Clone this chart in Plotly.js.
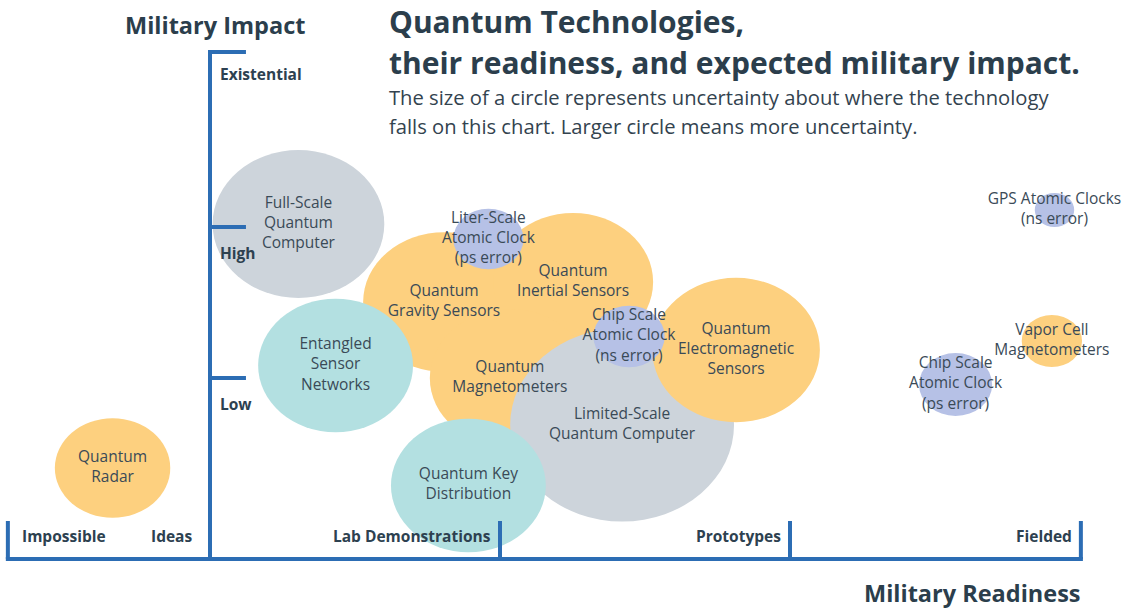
<!DOCTYPE html>
<html>
<head>
<meta charset="utf-8">
<script src="https://cdn.plot.ly/plotly-3.0.1.min.js"></script>
<style>
  html, body { margin: 0; padding: 0; background: #fff; }
  #plot { width: 1122px; height: 611px; }
</style>
</head>
<body>
<div id="plot"></div>
<script>
// Technologies, in drawing order (later ones sit on top)
let techLabels = [
  "Full-Scale<br>Quantum<br>Computer",
  "Quantum<br>Gravity Sensors",
  "Quantum<br>Inertial Sensors",
  "Quantum<br>Magnetometers",
  "Limited-Scale<br>Quantum Computer",
  "Quantum<br>Electromagnetic<br>Sensors",
  "Liter-Scale<br>Atomic Clock<br>(ps error)",
  "Chip Scale<br>Atomic Clock<br>(ns error)",
  "Entangled<br>Sensor<br>Networks",
  "Quantum Key<br>Distribution",
  "Quantum<br>Radar",
  "GPS Atomic Clocks<br>(ns error)",
  "Vapor Cell<br>Magnetometers",
  "Chip Scale<br>Atomic Clock<br>(ps error)"
]
// readiness: 0 = start of lab demonstrations, 1 = prototypes, 2 = fielded
let readiness = [0.305, 0.807, 1.252, 1.034, 1.421, 1.814, 0.960, 1.445, 0.433, 0.891, -0.336, 2.912, 2.903, 2.571]
// impact: 0 = bottom of the scale
let impact = [1.34, 1.028, 1.108, 0.724, 0.536, 0.836, 1.28, 0.89, 0.774, 0.294, 0.364, 1.396, 0.872, 0.698]
// uncertainty = circle radius
let uncertainty = [0.296, 0.279, 0.276, 0.276, 0.386, 0.289, 0.121, 0.123, 0.267, 0.267, 0.199, 0.068, 0.104, 0.126]
let groups = ["computing", "sensing", "sensing", "sensing", "computing", "sensing", "timing", "timing",
  "network", "network", "sensing", "timing", "sensing", "timing"]

// Axis scales
let stageNames = ["Impossible", "Ideas", "Lab Demonstrations", "Prototypes", "Fielded"]
let stageEdges = [-0.697, 0, 1, 2, 3.003]
let impactNames = ["Low", "High", "Existential"]
let impactLevels = [0.724, 1.328, 2.028]

let groupColors = {
  computing: "#cdd4db",
  sensing: "#fdd07f",
  timing: "#b6c1e6",
  network: "#b3e0e1"
}
let axisBlue = "#2c6db4"
let dark = "#2d4150"

let shapes = []

// One circle per technology
for (let i = 0; i < readiness.length; i++) {
  shapes.push({
    type: "circle",
    xref: "x", yref: "y",
    x0: readiness[i] - uncertainty[i],
    x1: readiness[i] + uncertainty[i],
    y0: impact[i] - uncertainty[i],
    y1: impact[i] + uncertainty[i],
    fillcolor: groupColors[groups[i]],
    line: {width: 0},
    layer: "below"
  })
}

// Readiness axis: bottom line and stage ticks
let tickLen = 0.152
let pad = 0.007
shapes.push({type: "line", xref: "x", yref: "y", x0: stageEdges[0] - pad, x1: stageEdges[stageEdges.length - 1] + pad,
  y0: 0, y1: 0, line: {color: axisBlue, width: 4}})
for (let i = 0; i < stageEdges.length; i++) {
  if (stageEdges[i] === 0) continue
  shapes.push({type: "line", xref: "x", yref: "y", x0: stageEdges[i], x1: stageEdges[i],
    y0: 0, y1: tickLen, line: {color: axisBlue, width: 4}})
}

// Impact axis: vertical line and level ticks
let topLevel = impactLevels[impactLevels.length - 1]
shapes.push({type: "line", xref: "x", yref: "y", x0: 0, x1: 0, y0: 0, y1: topLevel + 0.008,
  line: {color: axisBlue, width: 4}})
for (let i = 0; i < impactLevels.length; i++) {
  shapes.push({type: "line", xref: "x", yref: "y", x0: 0, x1: 0.124, y0: impactLevels[i], y1: impactLevels[i],
    line: {color: axisBlue, width: 4}})
}

let annotations = []
let labelFont = {family: "Open Sans", size: 15.5, color: dark}

for (let i = 0; i < impactNames.length; i++) {
  annotations.push({
    xref: "x", yref: "y", x: 0, y: impactLevels[i],
    xanchor: "left", yanchor: "top", xshift: 8, yshift: i === 0 ? -13 : (i === 1 ? -13 : -9),
    text: "<b>" + impactNames[i] + "</b>", showarrow: false, font: labelFont
  })
}

for (let i = 0; i < stageNames.length; i++) {
  let first = i === 0
  annotations.push({
    xref: "x", yref: "y", x: first ? stageEdges[0] : stageEdges[i], y: 0.092,
    xanchor: first ? "left" : "right", yanchor: "middle",
    xshift: first ? 12 : (stageEdges[i] === 0 ? -16 : -7),
    text: "<b>" + stageNames[i] + "</b>", showarrow: false, font: labelFont
  })
}

let titleFont = {family: "Open Sans", size: 30, color: "#2b3e4c"}
let subFont = {family: "Open Sans", size: 20.2, color: "#33434f"}
let axisTitleFont = {family: "Open Sans", size: 23.5, color: "#2b3e4c"}

annotations.push(
  {xref: "paper", yref: "paper", x: 387 / 1122, y: 1 - 22 / 611, xanchor: "left", yanchor: "middle",
    text: "<b>Quantum Technologies,</b>", showarrow: false, font: titleFont},
  {xref: "paper", yref: "paper", x: 387 / 1122, y: 1 - 62 / 611, xanchor: "left", yanchor: "middle",
    text: "<b>their readiness, and expected military impact.</b>", showarrow: false, font: titleFont},
  {xref: "paper", yref: "paper", x: 387 / 1122, y: 1 - 97 / 611, xanchor: "left", yanchor: "middle",
    text: "The size of a circle represents uncertainty about where the technology", showarrow: false, font: subFont},
  {xref: "paper", yref: "paper", x: 387 / 1122, y: 1 - 126 / 611, xanchor: "left", yanchor: "middle",
    text: "falls on this chart. Larger circle means more uncertainty.", showarrow: false, font: subFont},
  {xref: "paper", yref: "paper", x: 215 / 1122, y: 1 - 25 / 611, xanchor: "center", yanchor: "middle",
    text: "<b>Military Impact</b>", showarrow: false, font: axisTitleFont},
  {xref: "paper", yref: "paper", x: 1083 / 1122, y: 1 - 593 / 611, xanchor: "right", yanchor: "middle",
    text: "<b>Military Readiness</b>", showarrow: false, font: axisTitleFont}
)

// Labels for the circles
let trace = {
  x: readiness,
  y: impact,
  text: techLabels,
  mode: "text",
  type: "scatter",
  textposition: "middle center",
  textfont: {family: "Open Sans", size: 15.5, color: "#3a4a57"},
  hoverinfo: "skip",
  cliponaxis: false
}

let layout = {
  width: 1122,
  height: 611,
  autosize: false,
  margin: {l: 0, r: 0, t: 0, b: 0},
  paper_bgcolor: "#ffffff",
  plot_bgcolor: "#ffffff",
  showlegend: false,
  xaxis: {range: [-210 / 290, (1122 - 210) / 290], visible: false, fixedrange: true},
  yaxis: {range: [(559 - 611) / 250, 559 / 250], visible: false, fixedrange: true},
  shapes: shapes,
  annotations: annotations
}

Plotly.newPlot("plot", [trace], layout, {displayModeBar: false, staticPlot: true})
</script>
</body>
</html>
